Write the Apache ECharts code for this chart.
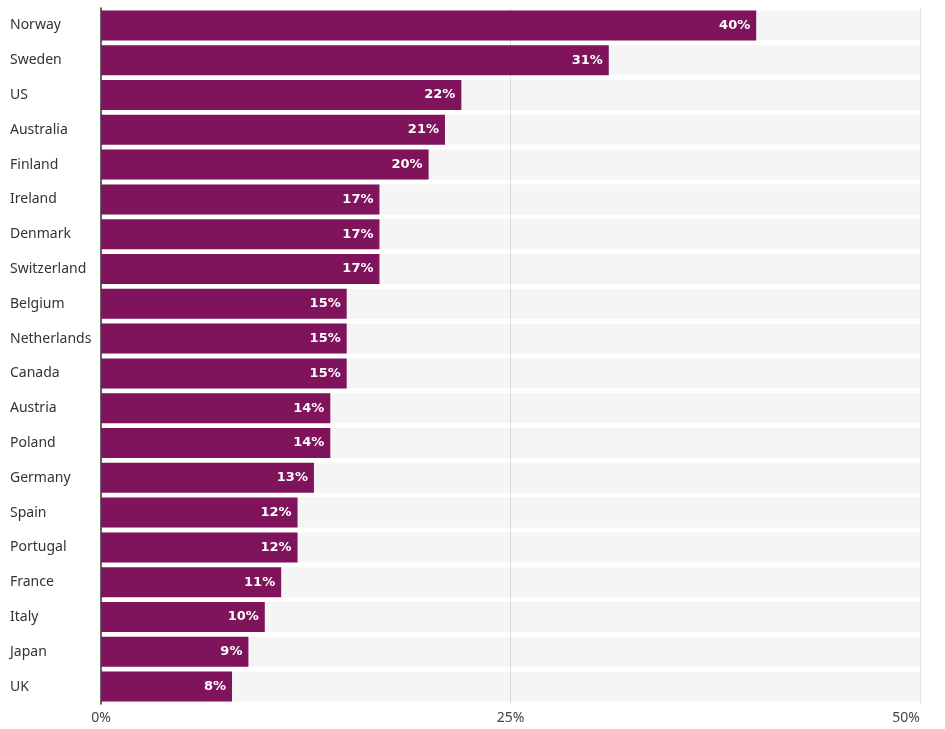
<!DOCTYPE html>
<html>
<head>
<meta charset="utf-8">
<script src="https://cdn.jsdelivr.net/npm/echarts@6/dist/echarts.min.js"></script>
<style>
  html, body { margin: 0; padding: 0; background: #fff; }
  #chart { width: 945px; height: 729px; }
</style>
</head>
<body>
<div id="chart"></div>
<script>
/* 国家与数值（从上到下） */
var countries = ['Norway', 'Sweden', 'US', 'Australia', 'Finland', 'Ireland', 'Denmark',
    'Switzerland', 'Belgium', 'Netherlands', 'Canada', 'Austria', 'Poland', 'Germany',
    'Spain', 'Portugal', 'France', 'Italy', 'Japan', 'UK'];
var shares = [40, 31, 22, 21, 20, 17, 17, 17, 15, 15, 15, 14, 14, 13, 12, 12, 11, 10, 9, 8];
var xTicks = [0, 25, 50];

var myChart = echarts.init(document.getElementById('chart'));
var option = {
    animation: false,
    grid: { left: 101, right: 25, top: 8, bottom: 25, containLabel: false },
    xAxis: {
        type: 'value',
        min: xTicks[0],
        max: xTicks[xTicks.length - 1],
        interval: xTicks[1] - xTicks[0],
        axisLine: { show: false },
        axisTick: { show: false },
        splitLine: { show: true, lineStyle: { color: '#e2e2e2', width: 1 } },
        axisLabel: {
            formatter: '{value}%',
            color: '#444',
            fontSize: 14,
            fontFamily: 'Noto Sans',
            margin: 7,
            alignMaxLabel: 'right'
        }
    },
    yAxis: {
        type: 'category',
        inverse: true,
        data: countries,
        axisLine: { show: true, lineStyle: { color: '#333', width: 1.5 } },
        axisTick: { show: false },
        axisLabel: {
            align: 'left',
            margin: 91,
            color: '#333',
            fontSize: 14,
            fontFamily: 'Noto Sans'
        }
    },
    series: [{
        type: 'bar',
        data: shares,
        barWidth: 30,
        itemStyle: { color: '#7f135c' },
        showBackground: true,
        backgroundStyle: { color: 'rgba(0,0,0,0.04)' },
        label: {
            show: true,
            position: 'insideRight',
            distance: 6,
            formatter: '{c}%',
            color: '#fff',
            fontWeight: 'bold',
            fontSize: 13,
            fontFamily: 'DejaVu Sans'
        }
    }]
};
myChart.setOption(option);
</script>
</body>
</html>
